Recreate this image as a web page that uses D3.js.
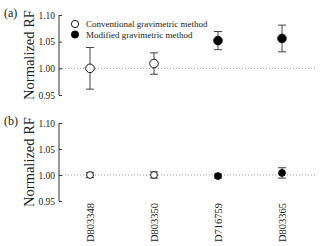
<!DOCTYPE html>
<html>
<head>
<meta charset="utf-8">
<script src="https://cdn.jsdelivr.net/npm/d3@7"></script>
<style>
  body { margin: 0; background: #fff; }
  text { font-family: "Liberation Serif", "Times New Roman", serif; fill: #222; }
</style>
</head>
<body>
<div id="chart"></div>
<script>
var categories = ["D803348", "D803350", "D716759", "D803365"];
var methods = ["Conventional gravimetric method", "Modified gravimetric method"];
// method index per category: 0 = conventional (open), 1 = modified (filled)
var methodOf = [0, 0, 1, 1];
var panelA_mean = [1.000, 1.009, 1.052, 1.056];
var panelA_err = [0.039, 0.020, 0.017, 0.025];
var panelB_mean = [1.000, 1.000, 0.998, 1.004];
var panelB_err = [0.005, 0.006, 0.004, 0.010];
var yTicks = [0.95, 1.00, 1.05, 1.10];

var width = 320, height = 246;
var axisX = 59;

var svg = d3.select("#chart").append("svg")
    .attr("width", width)
    .attr("height", height);

var x = d3.scalePoint()
    .domain(categories)
    .range([90, 282]);

function drawPanel(label, means, errs, top, bottom, r) {
    var y = d3.scaleLinear().domain([0.95, 1.10]).range([bottom, top]);
    var g = svg.append("g");

    // reference line at 1
    g.append("line")
        .attr("x1", axisX).attr("x2", 315)
        .attr("y1", y(1)).attr("y2", y(1))
        .attr("stroke", "#888").attr("stroke-width", 0.8)
        .attr("stroke-dasharray", "1,2");

    var yAxis = d3.axisLeft(y)
        .tickValues(yTicks)
        .tickFormat(d3.format(".2f"))
        .tickSize(-3)
        .tickPadding(4);
    var ax = g.append("g")
        .attr("transform", "translate(" + axisX + ",0)")
        .call(yAxis);
    ax.select(".domain").attr("stroke", "#333").attr("d", "M0," + top + "V" + bottom);
    ax.selectAll(".tick line").attr("stroke", "#333");
    ax.selectAll(".tick text").attr("font-size", 9.5).attr("fill", "#333")
        .style("font-family", "'Liberation Serif', serif");

    g.append("text")
        .attr("transform", "translate(34," + ((top + bottom) / 2) + ") rotate(-90)")
        .attr("text-anchor", "middle")
        .attr("font-size", 14.5)
        .text("Normalized RF");

    g.append("text")
        .attr("x", 4).attr("y", top + 2)
        .attr("font-size", 12)
        .text(label);

    var pts = g.selectAll(".pt")
        .data(categories)
        .join("g")
        .attr("class", "pt");

    pts.append("line")
        .attr("x1", d => x(d)).attr("x2", d => x(d))
        .attr("y1", (d, i) => y(means[i] - errs[i]))
        .attr("y2", (d, i) => y(means[i] + errs[i]))
        .attr("stroke", "#444").attr("stroke-width", 1);
    [-1, 1].forEach(function(s) {
        pts.append("line")
            .attr("x1", d => x(d) - 4).attr("x2", d => x(d) + 4)
            .attr("y1", (d, i) => y(means[i] + s * errs[i]))
            .attr("y2", (d, i) => y(means[i] + s * errs[i]))
            .attr("stroke", "#444").attr("stroke-width", 1);
    });
    pts.append("circle")
        .attr("cx", d => x(d))
        .attr("cy", (d, i) => y(means[i]))
        .attr("r", r)
        .attr("fill", (d, i) => methodOf[i] ? "#000" : "#fff")
        .attr("stroke", "#000")
        .attr("stroke-width", 0.9);
    return y;
}

drawPanel("(a)", panelA_mean, panelA_err, 15, 95, 4.3);
drawPanel("(b)", panelB_mean, panelB_err, 123, 201, 3.4);

// legend
var legend = svg.append("g");
methods.forEach(function(m, i) {
    legend.append("circle")
        .attr("cx", 75).attr("cy", 24 + i * 10.5)
        .attr("r", 3.6)
        .attr("fill", i ? "#000" : "#fff")
        .attr("stroke", "#000").attr("stroke-width", 0.9);
    legend.append("text")
        .attr("x", 86).attr("y", 27 + i * 10.5)
        .attr("font-size", 9)
        .text(m);
});

// category labels
svg.selectAll(".cat")
    .data(categories)
    .join("text")
    .attr("class", "cat")
    .attr("transform", d => "translate(" + (x(d) + 3.5) + ",203) rotate(-90)")
    .attr("text-anchor", "end")
    .attr("font-size", 10.5)
    .text(d => d);
</script>
</body>
</html>
